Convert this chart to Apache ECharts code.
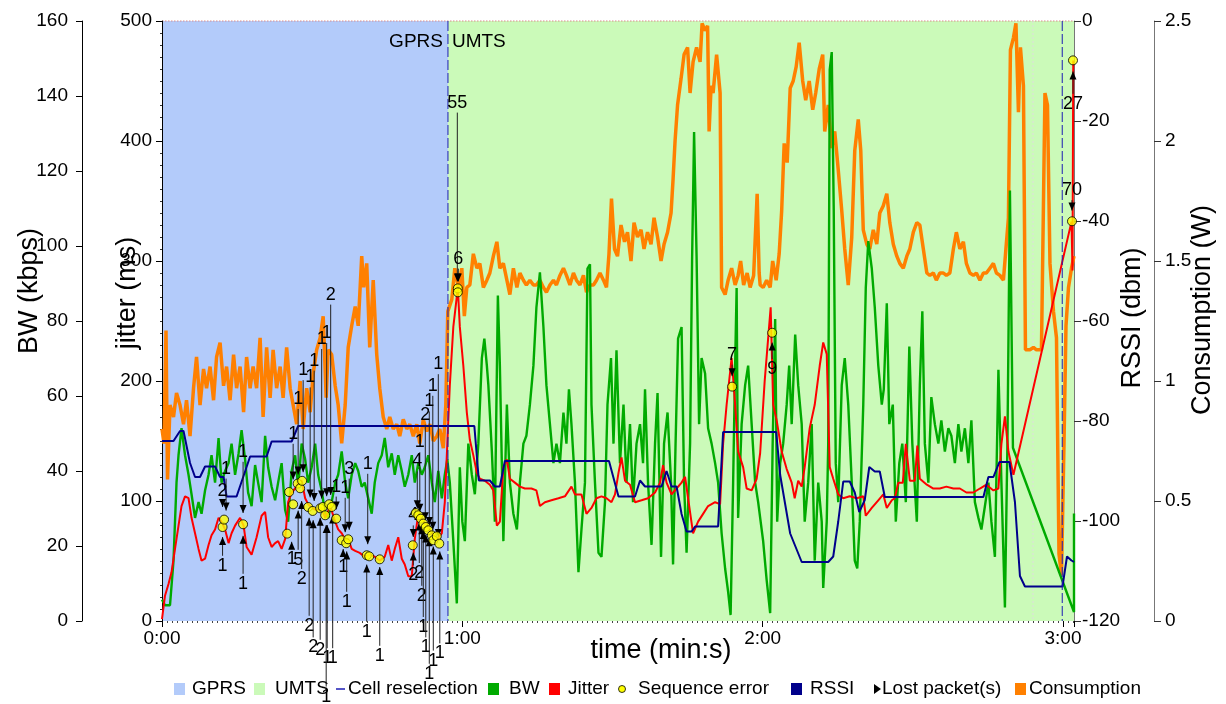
<!DOCTYPE html>
<html>
<head>
<meta charset="utf-8">
<script src="https://cdn.jsdelivr.net/npm/echarts@6/dist/echarts.min.js"></script>
<style>
html,body{margin:0;padding:0;background:#fff;}
#chart{width:1226px;height:704px;}
</style>
</head>
<body>
<div id="chart"></div>
<script>
const FONT = 'Liberation Sans, Arial, sans-serif';
const timeTicks = ['0:00', '1:00', '2:00', '3:00'];

// technology periods [name, start s, end s]
const periods = [['GPRS', 0, 57.13], ['UMTS', 57.13, 182.2]];
const reselections = [57.13, 179.85];
const otherMarks = [174.0];

// BW (kbps) [time s, value]
const bw = [[0,5.7],[0.6,4.2],[1.6,4.2],[2.3,16.1],[2.9,36.9],[3.3,44.2],[3.9,51.4],[4.6,44.2],[5.3,39],[5.9,33.8],[6.6,27.5],[7.3,31.7],[7.9,28.6],[8.6,34.8],[9.3,39],[9.9,44.2],[10.6,36.9],[11.3,48.8],[11.9,36.9],[12.6,40],[13.3,42.1],[13.9,47.3],[14.6,39],[15.3,44.7],[15.9,50.9],[16.6,43.1],[17.2,34.3],[17.9,30.6],[18.6,41.6],[19.2,36.9],[19.9,31.7],[20.6,49.4],[21.2,41],[21.9,35.8],[22.6,32.2],[23.2,36.9],[23.9,42.1],[24.6,29.6],[25.2,26.5],[25.9,40],[26.6,44.2],[27.2,35.8],[27.9,47.3],[28.6,43.1],[29.2,36.9],[29.9,41],[30.6,47.3],[31.2,39],[31.9,34.8],[32.6,28.6],[33.2,27.5],[33.9,31.7],[34.6,36.9],[35.2,39],[35.9,45.2],[36.6,36.9],[37.2,32.7],[37.9,39],[38.6,42.1],[39.2,40],[39.9,35.8],[40.5,36.9],[41.2,32.7],[41.9,28.6],[42.5,36.9],[43.2,42.1],[43.9,44.2],[44.5,48.8],[45.2,41],[45.9,44.7],[46.5,39],[47.2,44.2],[47.9,40],[48.5,35.8],[49.2,39],[49.9,44.2],[50.5,36.9],[51.2,42.1],[51.9,39],[52.5,41],[53.2,44.2],[53.9,36.9],[54.5,31.7],[55.2,40],[55.9,32.7],[56.5,39],[57,43.1],[57.5,36.9],[58.2,21.3],[58.9,4.7],
[59.5,41],[60,26.5],[60.5,21.3],[61.2,47.3],[61.9,39],[62.5,33.8],[63.2,47.3],[63.9,70.1],[64.4,75.3],[64.9,68.1],[65.2,62.9],[65.9,45.2],[66.5,26.5],[67.1,86.8],[67.5,68.1],[68.2,21.3],[68.9,57.7],[69.5,36.9],[70.2,28.6],[70.9,24.4],[71.5,36.9],[72.2,47.3],[72.8,49.4],[73.5,57.7],[74.2,68.1],[74.8,83.6],[75.5,93],[76.2,78.4],[76.8,62.9],[77.5,52.5],[78.2,42.1],[78.8,47.3],[79.5,42.1],[80.2,55.6],[80.8,47.3],[81.3,61.8],[81.8,52.5],[82.5,36.9],[83.2,13],[83.8,24.4],[84.5,36.9],[85,94],[85.5,95.1],[85.8,57.7],[86.5,36.9],[87.2,18.2],[87.8,17.1],[88.5,31.7],[89,57.7],[89.7,70.1],[90.2,47.3],[90.8,72.2],[91.5,42.1],[92.2,57.7],[92.8,36.9],[93.5,52.5],[94.1,31.7],[94.8,47.3],[95.5,52.5],[96.1,42.1],[96.5,61.8],[97.1,36.9],[97.8,20.3],[98.5,47.3],[99,60.8],[99.7,17.1],[100.3,47.3],[101,55.6],[101.7,36.9],[102.1,15.1],[102.6,47.3],[103.1,75.3],[103.8,78.4],[104.3,36.9],[104.8,18.2],[105.5,47.3],[105.9,96.1],[106.3,130.4],[106.8,97.1],[107.3,52.5],[107.8,70.1],[108.5,66],[109.1,51.4],[109.8,47.3],[110.5,42.1],[111.1,36.9],[111.8,23.4],[112.5,14],[113.1,7.8],[113.6,1.6],[114.1,36.9],[114.5,68.1],[114.8,88.8],[115.1,27.5],[115.8,52.5],[116.5,62.9],[117.1,68.1],[117.8,52.5],[118.5,36.9],[119.1,31.7],
[120.1,21.3],[120.8,10.9],[121.5,2.1],[122,47.3],[122.5,80.5],[122.9,26.5],[123.5,42.1],[124.1,47.3],[124.8,57.7],[125.3,68.1],[125.8,52.5],[126.5,76.4],[127.1,62.9],[127.8,52.5],[128.4,26.5],[129.1,36.9],[129.8,52.5],[130.4,16.1],[131.1,36.9],[131.8,26.5],[132.1,8.8],[132.8,26.5],[133.1,47.3],[133.4,147],[133.8,151.7],[134.2,109.6],[134.6,42.1],[135.1,31.7],[135.8,62.9],[136.4,70.1],[137.1,57.7],[137.8,36.9],[138.4,16.1],[138.9,14],[139.4,26.5],[140.1,57.7],[140.6,88.8],[141.1,101.3],[141.8,94],[142.4,83.6],[143.1,68.1],[143.8,57.7],[144.2,61.8],[144.8,84.7],[145.3,52.5],[146,57.7],[146.6,26.5],[147.3,42.1],[147.9,47.3],[148.6,31.7],[149.3,73.2],[149.9,47.3],[150.8,26.5],[151.4,62.9],[151.9,82.6],[152.4,47.3],[153.1,36.9],[153.7,59.7],[154.4,52.5],[155.1,47.3],[155.7,53.5],[156.4,45.2],[157.1,51.4],[157.7,49.4],[158.4,42.1],[159.1,52.5],[159.7,45.2],[160.4,51.4],[161.1,42.1],[161.7,53.5],[162.4,31.7],[163.1,27.5],[163.7,24.4],[164.4,30.6],[165.1,36.9],[165.7,26.5],[166.4,17.1],[167.1,67],[167.7,36.9],[168.4,3.6],[168.9,47.3],[169.4,114.8],[170,46.2],[182.2,2.4],[182.2,28.7]];

// Jitter (ms)
const jitter = [[0,1.6],[0.6,21.1],[1.3,30.8],[1.9,40.6],[2.6,60.1],[3.3,79.5],[3.9,95.8],[4.6,103.9],[5.3,102.3],[5.9,86],[6.6,73.1],[7.3,60.1],[7.9,50.3],[8.6,51.9],[9.3,63.3],[9.9,71.4],[10.6,76.3],[11.3,86],[11.9,82.8],[12.6,76.3],[13.3,64.9],[13.9,73.1],[14.6,79.5],[15.6,86],[16.3,79.5],[16.9,61.7],[17.9,55.2],[18.9,69.8],[19.9,87.7],[20.6,90.9],[21.2,69.8],[21.9,61.7],[22.6,64.9],[23.2,66.6],[23.9,60.1],[24.6,68.2],[25.2,99],[25.9,107.1],[26.6,110.4],[27.2,115.3],[27.9,116.9],[28.6,102.3],[29.2,97.4],[29.9,94.2],[30.9,92.5],[31.9,94.2],[32.6,86],[33.6,95.8],[34.6,82.8],[35.2,76.3],[35.9,73.1],[36.6,68.2],[37.2,68.2],[37.9,60.1],[38.6,58.4],[39.5,56.8],[40.5,53.6],[41.5,55.2],[42.5,53.6],[43.5,50.3],[44.5,53.6],[45.2,63.3],[45.9,50.3],[46.5,60.1],[47.2,69.8],[47.9,51.9],[48.5,47.1],[49.2,37.3],[49.9,37.3],[50.5,68.2],[51.2,89.3],[52.2,82.8],[52.9,79.5],[53.9,73.1],[54.9,68.2],[55.9,73.1],[56.5,99],[57,147.7],[57.5,196.4],[58.2,245.1],[59.1,277.6],[59.5,245.1],[60.2,212.7],[60.9,173.7],[61.5,151],[62.2,138],[62.9,123.4],[63.5,118.5],[64.5,116.9],[65.5,113.6],[66.2,108.8],[66.9,79.5],[67.5,82.8],[68.2,128.2],[68.9,134.7],[69.5,118.5],[70.5,115.3],[71.5,112],[72.5,110.4],[73.8,110.4],[74.8,108.8],[75.5,95.8],[76.5,99],[77.8,100.6],[79.2,102.3],[80.5,103.9],[81.8,112],[82.5,105.5],[83.8,105.5],[84.8,89.3],[85.8,94.2],[86.8,102.3],[87.8,103.9],[88.8,102.3],[89.8,99],[90.5,105.5],[91.2,123.4],[91.8,136.4],[92.5,116.9],[93.5,113.6],[94.5,99],[95.8,100.6],[97.1,102.3],[98.5,107.1],[99.5,115.3],[100.1,129.9],[100.8,115.3],[101.8,105.5],[102.8,110.4],[103.8,115.3],[104.5,120.1],[105.1,102.3],[106.1,73.1],[107.1,82.8],[108.1,89.3],[109.1,95.8],[110.5,99],[111.5,97.4],[112.1,147.7],[112.8,180.2],[113.8,219.2],[114.5,180.2],[115.1,141.2],[116.1,128.2],[116.8,110.4],[117.8,108.8],[118.8,118.5],[119.5,140],[120.4,199.7],[121.6,261.4],[122.1,180.2],[122.8,167.2],[123.8,141.2],[124.8,126.6],[125.8,115.3],[126.4,102.3],[127.1,116.9],[127.8,112],[128.4,128.2],[129.4,160.7],[130.4,180.2],[131.4,212.7],[132.1,232.1],[132.8,222.4],[133.4,128.2],[134.1,118.5],[135.1,105.5],[136.1,102.3],[137.4,103.9],[138.8,102.3],[140.1,103.9],[140.6,87.7],[141.8,94.2],[143.1,100.6],[144.1,105.5],[144.8,94.2],[145.8,100.6],[146.4,102.3],[147.1,115.3],[148,115.3],[148.6,147.7],[149.4,116.9],[150.4,116.9],[150.9,146.1],[151.4,118.5],[152.8,113.6],[154.1,110.4],[155.4,110.4],[156.7,112],[158.1,110.4],[159.4,110.4],[160.7,107.1],[162.1,107.1],[163.4,110.4],[164.7,113.6],[166.1,108.8],[167.1,110.4],[167.7,147.7],[168.4,170.5],[169.1,141.2],[170.1,121.8],[181.7,332.8],[181.9,292],[182.05,467]];

// RSSI (dBm)
const rssi = [[0,-84],[2.3,-84],[3.6,-82],[4.3,-82],[5.6,-88.4],[6.6,-91.2],[7.6,-91.2],[8.6,-89.1],[10.6,-89.1],[11.6,-91.2],[12.3,-91.2],[12.9,-95.1],[14.9,-95.1],[16.9,-89.2],[17.6,-87.1],[20.9,-87.1],[21.9,-84.1],[25.9,-84.1],[27.2,-81],[62.4,-81],[63.3,-91.9],[65.5,-91.9],[66.5,-93.1],[67.5,-93.1],[68.5,-88],[89.3,-88],[91.2,-95.1],[94.5,-95.1],[95.5,-91.9],[96.5,-93.1],[99.8,-93.1],[100.8,-90],[101.8,-93.1],[102.8,-93.1],[103.8,-98.6],[104.8,-102.1],[105.8,-102.1],[106.5,-101.1],[111.1,-101.1],[112.1,-82.2],[122.7,-82.2],[123.5,-90.8],[125.5,-102.5],[127.8,-108.2],[133.1,-108.2],[134.1,-107.1],[135.1,-100.1],[136.1,-92.1],[137.4,-92.1],[138.4,-94.3],[139.3,-98.2],[140.4,-95.8],[141.3,-89.2],[142.4,-90.1],[143.4,-90.1],[144.4,-95.2],[164.1,-95.2],[165.1,-91.2],[166.1,-91.2],[167.3,-88.2],[169.3,-88.2],[170.4,-96.2],[171.4,-111],[172.4,-113.1],[179.9,-113.1],[180.8,-107.1],[181.7,-107.9],[182.2,-108.2]];

// Consumption (W)
const consumption = [[0,0.80],[0.4,0.74],[0.8,1.21],[1.1,0.59],[1.6,0.90],[2.3,0.85],[2.9,0.95],[3.6,0.90],[4.3,0.82],[4.9,0.92],[5.6,0.77],[6.3,0.97],[6.9,1.10],[7.6,0.90],[8.3,1.05],[8.9,0.97],[9.6,1.06],[10.3,0.92],[10.9,1.10],[11.6,1.16],[12.3,0.98],[12.9,1.06],[13.6,0.92],[14.3,1.11],[14.9,0.97],[15.6,1.06],[16.3,0.87],[16.9,1.10],[17.6,0.97],[18.2,1.06],[18.9,0.97],[19.6,1.18],[20.2,0.85],[20.9,1.14],[21.6,0.93],[22.2,1.13],[22.9,0.97],[23.6,1.06],[24.2,0.93],[24.9,1.14],[25.6,0.97],[26.2,0.90],[26.9,0.82],[27.6,1.00],[28.2,0.80],[28.9,0.97],[29.6,0.87],[30.2,1.03],[30.9,1.13],[31.6,1.18],[32.2,1.27],[32.8,0.93],[33.2,1.13],[33.9,1.11],[34.6,0.98],[35.2,0.90],[35.9,0.74],[36.6,0.90],[37.2,1.14],[37.9,1.23],[38.6,1.31],[39.2,1.23],[39.9,1.52],[40.3,1.39],[40.9,1.49],[41.5,1.14],[42.2,1.42],[42.9,1.11],[43.5,0.97],[44.2,0.85],[44.9,0.80],[45.5,0.85],[46.2,0.80],[46.9,0.82],[47.5,0.77],[48.2,0.84],[48.9,0.80],[49.5,0.82],[50.2,0.77],[50.9,0.82],[51.5,0.74],[52.2,0.84],[52.9,0.79],[53.5,0.82],[54.2,0.75],[54.9,0.77],[55.5,0.80],[56.2,0.72],[56.7,0.90],[57.1,1.29],[57.9,1.34],[58.5,1.47],[59.2,1.39],[59.9,1.47],[60.4,1.27],[60.9,1.39],[61.5,1.40],[62.2,1.53],[62.9,1.47],[63.5,1.49],[64.2,1.39],[64.9,1.42],[65.5,1.45],[66.2,1.52],[66.9,1.58],[67.5,1.47],[68.2,1.49],[68.9,1.42],[69.5,1.36],[70.2,1.47],[70.9,1.39],[71.5,1.45],[72.2,1.42],[72.8,1.40],[73.5,1.42],[74.2,1.40],[74.8,1.40],[75.5,1.42],[76.2,1.39],[76.8,1.37],[77.5,1.40],[78.2,1.42],[78.8,1.40],[79.5,1.44],[80.2,1.47],[80.8,1.44],[81.5,1.40],[82.2,1.45],[82.8,1.42],[83.5,1.40],[84.2,1.44],[84.8,1.37],[85.5,1.40],[86.2,1.40],[86.8,1.42],[87.5,1.45],[88.2,1.42],[88.8,1.39],[89.3,1.53],[89.8,1.76],[90.4,1.55],[91.0,1.52],[91.7,1.65],[92.4,1.58],[93.0,1.62],[93.7,1.50],[94.3,1.66],[95.0,1.60],[95.7,1.63],[96.3,1.55],[97.0,1.62],[97.7,1.57],[98.3,1.68],[99.0,1.60],[99.7,1.50],[100.3,1.57],[101.0,1.62],[101.7,1.70],[102.1,1.84],[102.5,2.00],[103.0,2.15],[103.7,2.26],[104.3,2.36],[105.0,2.39],[105.5,2.20],[106.1,2.33],[106.8,2.39],[107.5,2.33],[107.9,2.49],[108.5,2.46],[109.0,2.48],[109.3,2.04],[109.7,2.23],[110.1,2.20],[110.8,2.36],[111.5,2.20],[111.8,1.39],[112.5,1.36],[113.1,1.42],[113.8,1.47],[114.5,1.40],[115.1,1.44],[115.6,1.50],[116.2,1.40],[116.9,1.45],[117.5,1.39],[118.2,1.44],[118.9,1.78],[119.3,1.45],[119.5,1.40],[120.1,1.39],[120.8,1.42],[121.5,1.39],[122.0,1.50],[122.7,1.42],[123.3,1.53],[123.8,1.71],[124.3,1.99],[124.9,1.91],[125.5,2.22],[126.1,2.25],[126.7,2.31],[127.3,2.41],[128.0,2.25],[128.6,2.17],[129.3,2.25],[130.0,2.13],[130.6,2.20],[131.3,2.30],[132.0,2.36],[132.4,2.04],[133.1,2.15],[133.8,1.97],[134.4,2.04],[135.1,1.88],[135.8,1.71],[136.4,1.55],[137.1,1.40],[137.8,1.60],[138.4,1.96],[139.1,2.09],[139.6,1.96],[140.1,1.63],[140.8,1.57],[141.4,1.55],[142.1,1.63],[142.8,1.57],[143.4,1.70],[144.1,1.73],[144.8,1.78],[145.4,1.66],[146.1,1.57],[146.8,1.52],[147.4,1.49],[148.1,1.47],[148.8,1.52],[149.4,1.55],[150.1,1.62],[150.8,1.66],[151.4,1.65],[152.1,1.55],[152.8,1.45],[153.4,1.44],[154.1,1.45],[154.7,1.42],[155.4,1.45],[156.1,1.45],[156.7,1.44],[157.4,1.45],[158.1,1.55],[158.7,1.62],[159.4,1.55],[160.1,1.58],[160.7,1.49],[161.4,1.45],[162.1,1.44],[162.7,1.45],[163.4,1.42],[164.1,1.45],[164.7,1.45],[165.4,1.47],[166.1,1.49],[166.7,1.45],[167.4,1.44],[168.1,1.42],[168.6,1.55],[169.1,1.68],[169.5,2.38],[170.1,2.43],[170.6,2.49],[171.1,2.12],[171.5,2.39],[172.1,2.23],[172.5,1.13],[173.4,1.13],[174.1,1.14],[174.7,1.13],[175.7,1.13],[176.4,2.20],[176.9,2.15],[177.4,1.49],[178.1,1.29],[178.7,1.18],[179.2,0.28],[179.7,0.19],[180.2,0.74],[180.6,1.23],[181.1,1.39],[181.7,1.47],[182.2,1.52]];

// Sequence errors [time s, jitter ms]
const seqErrors = [[12.1,78.3],[12.4,84.5],[16.2,80.6],[25.0,72.8],[25.4,107.5],[26.2,97.2],[27.1,114.5],[27.6,110.6],[28.0,116.8],[29.2,95],[30.1,91.7],[31.6,93.9],[32.1,95],[32.6,88.1],[33.4,97.3],[33.9,95],[34.8,85.3],[35.9,67.3],[36.8,64.8],[37.2,68.1],[40.9,54.8],[41.4,53.9],[43.5,51.4],[50.1,63.1],[50.7,90],[51.2,88.1],[51.7,85.3],[52.2,81.2],[52.7,78.3],[53.2,75.6],[53.9,71.4],[54.2,67.3],[54.9,70.6],[55.4,64.5],[59.1,277.2],[59.1,273.9],[113.9,195.3],[121.9,240.2],[181.8,333.1],[182.0,467.2]];

// Lost packets [time s, arrow tip (jitter ms), label position (jitter ms), count]
const lostPackets = [
[12.8,92,127,'1'],[12.1,95,108,'2'],[12.1,70,46,'1'],
[16.2,90,141,'1'],[16.2,71,31,'1'],
[26.2,118,156,'1'],[27.2,122,185,'1'],[28.2,124,209,'1'],[29.6,103,203,'1'],[30.4,100,217,'1'],[31.9,102,235,'1'],[32.9,104,240,'1'],[33.7,105,272,'2'],[34.8,93,112,'1'],[36.6,74,111,'1'],[37.4,76,127,'3'],[41.1,64,131,'1'],
[25.9,66,52,'1'],[27.2,92,51,'5'],[27.9,100,35,'2'],[29.4,86,-4,'2'],[30.2,84,-22,'2'],[31.6,86,-24,'2'],[33.0,80,-31,'1'],[34.1,88,-31,'1'],[36.2,60,45,'1'],[36.9,58,16,'1'],[40.9,47,-9,'1'],[43.5,45,-29,'1'],[32.8,80,-63,'1'],
[55.2,70,214,'1'],[54.1,76,196,'1'],[53.4,80,183,'1'],[52.6,84,172,'2'],[51.5,91,149,'1'],[51.0,94,133,'4'],[50.2,70,88,'4'],
[50.2,57,38,'2'],[51.4,82,40,'2'],[51.9,79,21,'2'],[52.2,75,-5,'1'],[52.7,72,-22,'1'],[53.4,69,-44,'1'],[54.2,62,-33,'1'],[55.5,58,-27,'1'],
[59.0,283,432,'55'],[59.2,283,302,'6'],[113.9,204,222,'7'],[121.9,232,210,'9'],[182.0,458,431,'27'],[181.8,342,359,'70']
];

const C = {
  GPRS: '#b3cbfa', UMTS: '#cbfab9', resel: '#1c1cb4',
  bw: '#00aa00', jitter: '#ff0000', rssi: '#00008b', cons: '#ff8000'
};

const chart = echarts.init(document.getElementById('chart'), null, {renderer: 'canvas'});

const axisLabelStyle = {color: '#000', fontSize: 19, fontFamily: FONT};

function legendGraphic() {
  const y = 689, els = [];
  const sq = (x, color) => els.push({type: 'rect', shape: {x: x, y: y - 6, width: 11, height: 12}, style: {fill: color}});
  const tx = (x, t) => els.push({type: 'text', x: x, y: y, style: {text: t, fontSize: 19, fontFamily: FONT, fill: '#000', align: 'left', verticalAlign: 'middle'}});
  sq(174, C.GPRS); tx(192, 'GPRS');
  sq(254, C.UMTS); tx(275, 'UMTS');
  els.push({type: 'line', shape: {x1: 336, y1: y, x2: 345, y2: y}, style: {stroke: C.resel, lineWidth: 1.5}});
  tx(348, 'Cell reselection');
  sq(488, C.bw); tx(509, 'BW');
  sq(549, C.jitter); tx(568, 'Jitter');
  els.push({type: 'circle', shape: {cx: 622, cy: y, r: 3.5}, style: {fill: '#ffff00', stroke: '#000', lineWidth: 0.8}});
  tx(638, 'Sequence error');
  sq(791, C.rssi); tx(810, 'RSSI');
  els.push({type: 'polygon', shape: {points: [[874, y - 5], [874, y + 5], [881, y]]}, style: {fill: '#000'}});
  tx(882, 'Lost packet(s)');
  sq(1015, C.cons); tx(1029, 'Consumption');
  return els;
}

function axisTitle(x, y, text, rot) {
  return {type: 'text', x: x, y: y, rotation: rot || 0,
    style: {text: text, fontSize: 27, fontFamily: FONT, fill: '#000', align: 'center', verticalAlign: 'middle'}};
}

const option = {
  animation: false,
  backgroundColor: '#fff',
  grid: {left: 162, right: 152, top: 21, bottom: 83, containLabel: false},
  xAxis: {
    type: 'value', min: 0, max: 182.2, interval: 60,
    axisLine: {show: false},
    axisTick: {show: true, length: 6, lineStyle: {color: '#000'}},
    minorTick: {show: true, splitNumber: 60, length: 2, lineStyle: {color: '#444'}},
    splitLine: {show: false},
    axisLabel: Object.assign({margin: 8, formatter: v => (v % 60 === 0 ? timeTicks[v / 60] : '')}, axisLabelStyle)
  },
  yAxis: [
    {type: 'value', position: 'left', min: 0, max: 500, interval: 100,
      axisLine: {show: true, lineStyle: {color: '#000'}},
      axisTick: {show: true, length: 6, lineStyle: {color: '#000'}},
      minorTick: {show: true, splitNumber: 10, length: 2, lineStyle: {color: '#333'}},
      splitLine: {show: false},
      axisLabel: Object.assign({margin: 10}, axisLabelStyle)},
    {type: 'value', position: 'left', offset: 80, min: 0, max: 160, interval: 20,
      axisLine: {show: true, lineStyle: {color: '#000'}},
      axisTick: {show: true, length: 6, lineStyle: {color: '#000'}},
      splitLine: {show: false},
      axisLabel: Object.assign({margin: 14}, axisLabelStyle)},
    {type: 'value', position: 'right', min: -120, max: 0, interval: 20,
      axisLine: {show: true, lineStyle: {color: '#777'}},
      axisTick: {show: true, length: 7, lineStyle: {color: '#333'}},
      splitLine: {show: false},
      axisLabel: Object.assign({margin: 8}, axisLabelStyle)},
    {type: 'value', position: 'right', offset: 80, min: 0, max: 2.5, interval: 0.5,
      axisLine: {show: true, lineStyle: {color: '#777'}},
      axisTick: {show: true, length: 7, lineStyle: {color: '#333'}},
      splitLine: {show: false},
      axisLabel: Object.assign({margin: 11}, axisLabelStyle)}
  ],
  graphic: [
    axisTitle(30, 291, 'BW (kbps)', Math.PI / 2),
    axisTitle(128, 293, 'jitter (ms)', Math.PI / 2),
    axisTitle(1133, 318, 'RSSI (dbm)', Math.PI / 2),
    axisTitle(1203, 310, 'Consumption (W)', Math.PI / 2),
    axisTitle(661, 651, 'time (min:s)', 0)
  ].concat(legendGraphic()),
  series: [
    { // technology periods (background)
      type: 'custom', name: 'periods', z: 0, silent: true, yAxisIndex: 0,
      data: periods.map(p => [p[1], p[2]]),
      encode: {x: [0, 1]},
      renderItem: function (params, api) {
        const p = periods[params.dataIndex];
        const a = api.coord([p[1], 500]);
        const b = api.coord([p[2], 0]);
        const ch = [{type: 'rect', shape: {x: a[0], y: a[1], width: b[0] - a[0], height: b[1] - a[1]}, style: {fill: C[p[0]]}}];
        if (params.dataIndex === 0) {
          ch.push({type: 'text', x: b[0] - 5, y: a[1] + 21, style: {text: p[0], fontSize: 19, fontFamily: FONT, fill: '#000', align: 'right', verticalAlign: 'middle'}});
        } else {
          ch.push({type: 'text', x: a[0] + 4, y: a[1] + 21, style: {text: p[0], fontSize: 19, fontFamily: FONT, fill: '#000', align: 'left', verticalAlign: 'middle'}});
        }
        if (params.dataIndex === periods.length - 1) {
          const l = api.coord([periods[0][1], 500]);
          ch.push({type: 'line', shape: {x1: l[0], y1: a[1], x2: b[0], y2: a[1]}, style: {stroke: '#d98c8c', lineWidth: 1, lineDash: [1.5, 1.5]}});
        }
        return {type: 'group', children: ch};
      }
    },
    { // other event marks
      type: 'custom', name: 'marks', z: 1, silent: true, yAxisIndex: 0,
      data: otherMarks.map(t => [t]), encode: {x: 0},
      renderItem: function (params, api) {
        const a = api.coord([otherMarks[params.dataIndex], 500]);
        const b = api.coord([otherMarks[params.dataIndex], 0]);
        return {type: 'line', shape: {x1: a[0], y1: a[1], x2: b[0], y2: b[1]}, style: {stroke: '#dddddd', lineWidth: 1, lineDash: [2, 2]}};
      }
    },
    {
      type: 'line', name: 'Consumption', yAxisIndex: 3, z: 2, data: consumption,
      showSymbol: false, clip: false, lineStyle: {color: C.cons, width: 3.5}, itemStyle: {color: C.cons}
    },
    {
      type: 'line', name: 'BW', yAxisIndex: 1, z: 3, data: bw,
      showSymbol: false, clip: false, lineStyle: {color: C.bw, width: 2.4}, itemStyle: {color: C.bw}
    },
    {
      type: 'line', name: 'Jitter', yAxisIndex: 0, z: 4, data: jitter,
      showSymbol: false, clip: false, lineStyle: {color: C.jitter, width: 2}, itemStyle: {color: C.jitter}
    },
    {
      type: 'line', name: 'RSSI', yAxisIndex: 2, z: 5, data: rssi,
      showSymbol: false, clip: false, lineStyle: {color: C.rssi, width: 2}, itemStyle: {color: C.rssi}
    },
    { // cell reselection
      type: 'custom', name: 'Cell reselection', z: 6, silent: true, yAxisIndex: 0,
      data: reselections.map(t => [t]), encode: {x: 0},
      renderItem: function (params, api) {
        const a = api.coord([reselections[params.dataIndex], 500]);
        const b = api.coord([reselections[params.dataIndex], 0]);
        return {type: 'line', shape: {x1: a[0], y1: a[1], x2: b[0], y2: b[1]}, style: {stroke: C.resel, lineWidth: 1, lineDash: [10, 3]}};
      }
    },
    { // lost packets
      type: 'custom', name: 'Lost packet(s)', z: 7, silent: true, yAxisIndex: 0, clip: false,
      data: lostPackets.map(d => [d[0], d[1], d[2]]), encode: {x: 0, y: [1, 2]},
      renderItem: function (params, api) {
        const d = lostPackets[params.dataIndex];
        const tip = api.coord([d[0], d[1]]);
        const lab = api.coord([d[0], d[2]]);
        const s = lab[1] > tip[1] ? 1 : -1;
        const endY = lab[1] - s * 10;
        const tw = 3.5, th = 8;
        return {type: 'group', children: [
          {type: 'line', shape: {x1: tip[0], y1: tip[1], x2: tip[0], y2: endY}, style: {stroke: '#222', lineWidth: 1}},
          {type: 'polygon', shape: {points: [[tip[0], tip[1]], [tip[0] - tw, tip[1] + s * th], [tip[0] + tw, tip[1] + s * th]]}, style: {fill: '#000'}},
          {type: 'text', x: lab[0], y: lab[1], style: {text: d[3], fontSize: 18, fontFamily: FONT, fill: '#000', align: 'center', verticalAlign: 'middle'}}
        ]};
      }
    },
    {
      type: 'scatter', name: 'Sequence error', yAxisIndex: 0, z: 8, data: seqErrors,
      symbol: 'circle', symbolSize: 9, clip: false,
      itemStyle: {color: '#ffff00', borderColor: '#000', borderWidth: 1}
    }
  ]
};
chart.setOption(option);
</script>
</body>
</html>
